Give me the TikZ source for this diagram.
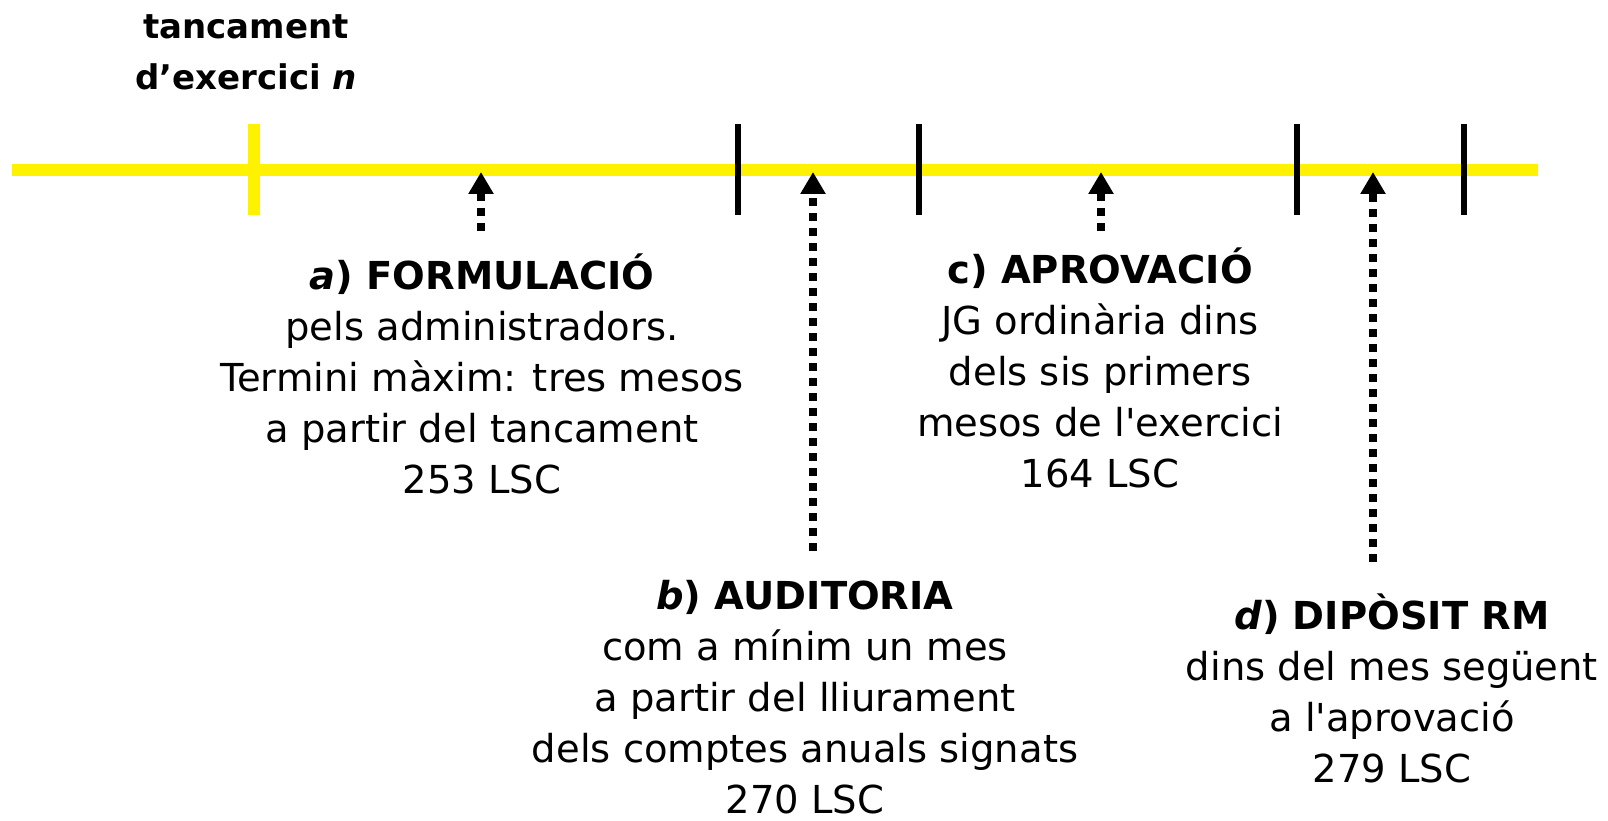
\documentclass[tikz,border=0pt]{standalone}
\usepackage{fontspec}
\setmainfont{DejaVu Sans}
\usetikzlibrary{arrows.meta}

\begin{document}
\begin{tikzpicture}
      [x=1pt,y=-1pt
      ,axis/.style={color=yellow,line width=12pt}
      ,tick/.style={color=black,line width=6pt}
      ,event/.style={color=black,line width=8pt,dash pattern=on 8pt off 7pt
                    ,-{Triangle[width=24pt,length=22pt]}}
      ,lbl/.style={align=center,anchor=north,inner sep=0pt
                  ,font=\fontsize{38.5}{51}\selectfont}
      ,head/.style={lbl,font=\fontsize{34}{51}\selectfont\bfseries}
      ]
        \useasboundingbox (0,0) rectangle (1608,821);
        % time axis
        \coordinate (left) at (12,170);
        \coordinate (right) at (1538,170);
        \draw[axis] (left) -- (right);
        \draw[axis] (254,124) -- (254,215);
        \foreach \x in {738,919,1297,1464}
          \draw[tick] (\x,124) -- (\x,215);
        % events on the axis
        \coordinate (ta) at (481,172);
        \coordinate (tb) at (813,172);
        \coordinate (tc) at (1101,172);
        \coordinate (td) at (1373,172);
        \node[head] (close) at (246,14)
          {tancament\\d’exercici \textit{n}};
        \node[lbl] (form) at (482,254)
          {\textbf{\textit{a}) FORMULACIÓ}\\pels administradors.\\Termini màxim: tres mesos\\a partir del tancament\\253 LSC};
        \node[lbl] (audit) at (805,580)
          {\textbf{\textit{b}) AUDITORIA}\\com a mínim un mes\\a partir del lliurament\\dels comptes anuals signats\\270 LSC};
        \node[lbl] (aprov) at (1100,248)
          {\textbf{c) APROVACIÓ}\\JG ordinària dins\\dels sis primers\\mesos de l\textquotesingle exercici\\164 LSC};
        \node[lbl] (dipos) at (1392,594)
          {\textbf{\textit{d}) DIPÒSIT RM}\\dins del mes següent\\a l\textquotesingle aprovació\\279 LSC};
        \draw[event,shorten <=23pt] (ta |- form.north) -- (ta);
        \draw[event,shorten <=29pt] (tb |- audit.north) -- (tb);
        \draw[event,shorten <=17pt] (tc |- aprov.north) -- (tc);
        \draw[event,shorten <=32pt] (td |- dipos.north) -- (td);
      \end{tikzpicture}
\end{document}
